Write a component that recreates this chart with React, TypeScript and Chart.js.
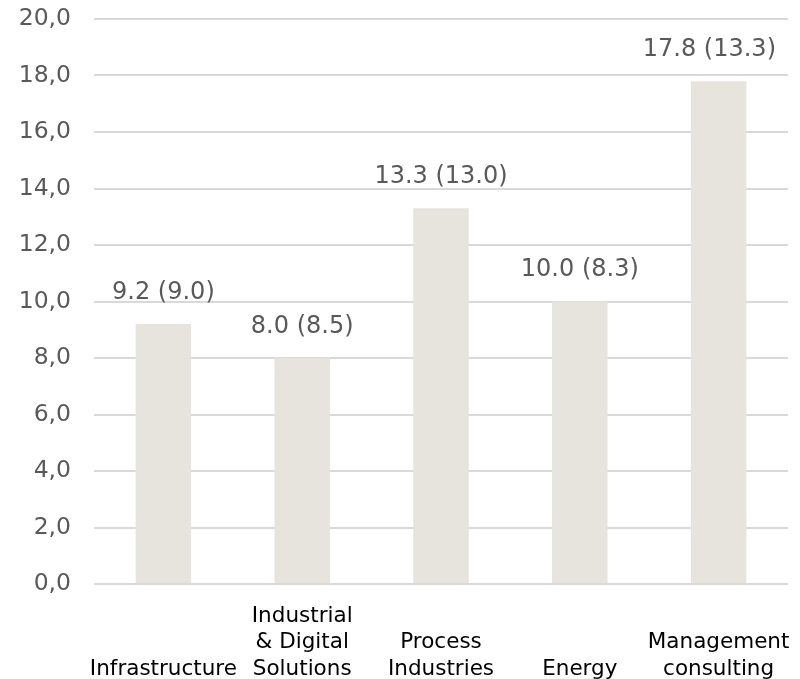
import React, { useEffect, useRef } from "react";
import { Chart, registerables } from "chart.js";

Chart.register(...registerables);

// Segment names (multi-line labels)
const categories: string[][] = [
  ["Infrastructure"],
  ["Industrial", "& Digital", "Solutions"],
  ["Process", "Industries"],
  ["Energy"],
  ["Management", "consulting"],
];

// Current-year values and prior-year values (in brackets)
const currentValues: number[] = [9.2, 8.0, 13.3, 10.0, 17.8];
const priorValues: number[] = [9.0, 8.5, 13.0, 8.3, 13.3];

// Value axis
const axisMin = 0;
const axisMax = 20;
const axisStep = 2;

const FONT = "'DejaVu Sans', Verdana, sans-serif";

const valueLabelPlugin = {
  id: "valueLabels",
  afterDatasetsDraw(chart: any) {
    const { ctx, chartArea } = chart;
    const meta = chart.getDatasetMeta(0);
    ctx.save();
    ctx.font = `24px ${FONT}`;
    meta.data.forEach((bar: any, i: number) => {
      const text = `${currentValues[i].toFixed(1)} (${priorValues[i].toFixed(1)})`;
      const tw = ctx.measureText(text).width;
      const padX = 12;
      const boxW = tw + padX * 2;
      let cx = bar.x;
      if (cx + boxW / 2 > chartArea.right) cx = chartArea.right - boxW / 2;
      if (cx - boxW / 2 < chartArea.left) cx = chartArea.left + boxW / 2;
      const mid = bar.y - 34;
      ctx.fillStyle = "#ffffff";
      ctx.fillRect(cx - boxW / 2, mid - 21, boxW, 29);
      ctx.fillStyle = "#595959";
      ctx.textAlign = "center";
      ctx.textBaseline = "alphabetic";
      ctx.fillText(text, cx, mid + 8.7);
    });
    ctx.restore();
  },
};

export default function App() {
  const canvasRef = useRef<HTMLCanvasElement | null>(null);

  useEffect(() => {
    if (!canvasRef.current) return;
    const chart = new Chart(canvasRef.current, {
      type: "bar",
      data: {
        labels: categories,
        datasets: [
          {
            data: currentValues,
            backgroundColor: "#e7e4de",
            borderWidth: 0,
            categoryPercentage: 1,
            barPercentage: 0.4,
          },
        ],
      },
      options: {
        animation: false,
        responsive: true,
        maintainAspectRatio: false,
        layout: { padding: { top: 19, right: 12, left: 0, bottom: 0 } },
        plugins: {
          legend: { display: false },
          tooltip: { enabled: false },
        },
        scales: {
          x: {
            grid: { display: false, drawTicks: false },
            border: { display: false },
            ticks: {
              autoSkip: false,
              maxRotation: 0,
              minRotation: 0,
              crossAlign: "far",
              padding: 32,
              color: "#000000",
              font: { family: FONT, size: 21.5, lineHeight: "26.5px" },
            },
            afterFit(scale: any) {
              scale.height = 95;
              scale.paddingLeft = 0;
              scale.paddingRight = 0;
            },
          },
          y: {
            min: axisMin,
            max: axisMax,
            grid: { color: "#d9d9d9", lineWidth: 2, drawTicks: false },
            border: { display: false },
            ticks: {
              stepSize: axisStep,
              padding: 23,
              color: "#595959",
              font: { family: FONT, size: 23.5 },
              callback: (v: any) => Number(v).toFixed(1).replace(".", ","),
            },
            afterFit(scale: any) {
              scale.width = 94;
              scale.paddingTop = 0;
              scale.paddingBottom = 0;
            },
          },
        },
      },
      plugins: [valueLabelPlugin],
    });
    return () => chart.destroy();
  }, []);

  return (
    <div style={{ position: "fixed", left: 0, top: 0, width: 800, height: 679, background: "#ffffff" }}>
      <canvas ref={canvasRef} />
    </div>
  );
}
